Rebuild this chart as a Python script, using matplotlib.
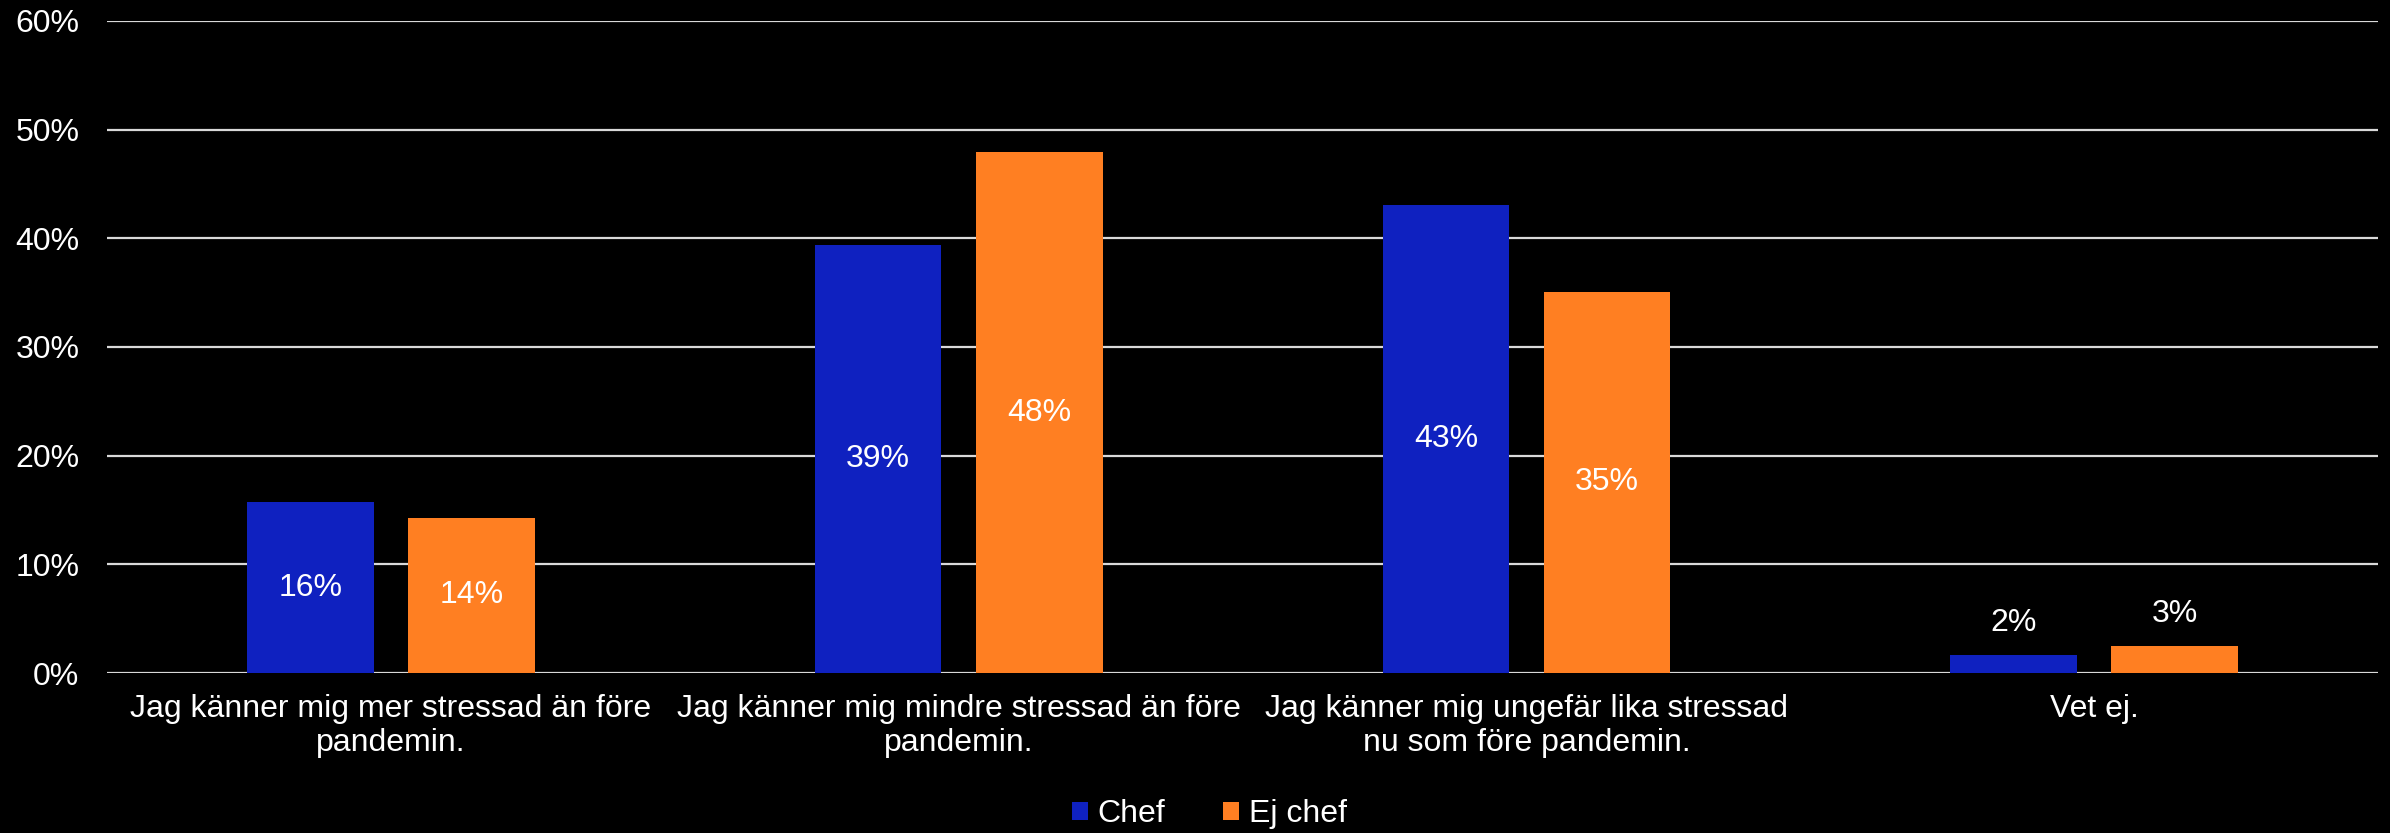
import matplotlib
matplotlib.use('Agg')
import matplotlib.pyplot as plt
import numpy as np
from matplotlib.ticker import PercentFormatter

plt.rcParams['font.family'] = ['Liberation Sans', 'DejaVu Sans']

categories = [
    "Jag känner mig mer stressad än före\npandemin.",
    "Jag känner mig mindre stressad än före\npandemin.",
    "Jag känner mig ungefär lika stressad\nnu som före pandemin.",
    "Vet ej.",
]
chef = [15.7, 39.4, 43.1, 1.7]
ej_chef = [14.3, 47.9, 35.1, 2.5]
chef_labels = ["16%", "39%", "43%", "2%"]
ej_chef_labels = ["14%", "48%", "35%", "3%"]

blue = '#0F21C0'
orange = '#FF7F22'
grid = '#D9D9D9'
fs = 23

fig = plt.figure(figsize=(23.9, 8.33), dpi=100, facecolor='black')
ax = fig.add_axes([0.0448, 0.192, 0.9502, 0.783])
ax.set_facecolor('black')

x = np.arange(len(categories))
w = 0.223
off = 0.142
b1 = ax.bar(x - off, chef, w, color=blue, label='Chef', zorder=3)
b2 = ax.bar(x + off, ej_chef, w, color=orange, label='Ej chef', zorder=3)

for bars, labels in ((b1, chef_labels), (b2, ej_chef_labels)):
    for rect, lab in zip(bars, labels):
        h = rect.get_height()
        cx = rect.get_x() + rect.get_width() / 2
        if h > 5:
            ax.text(cx, h / 2, lab, ha='center', va='center', color='white', fontsize=fs, zorder=4)
        else:
            ax.annotate(lab, (cx, h), xytext=(0, 12), textcoords='offset points',
                        ha='center', va='bottom', color='white', fontsize=fs, zorder=4)

ax.set_xlim(-0.5, 3.5)
ax.set_ylim(0, 60)
ax.set_yticks(np.arange(0, 61, 10))
ax.yaxis.set_major_formatter(PercentFormatter(decimals=0))
ax.yaxis.grid(True, color=grid, linewidth=1.6, zorder=0)
ax.set_axisbelow(True)
for s in ax.spines.values():
    s.set_visible(False)
ax.tick_params(axis='y', length=0, pad=20, labelsize=fs, labelcolor='white')
ax.tick_params(axis='x', length=0, pad=15, labelsize=fs, labelcolor='white')
ax.set_xticks(x)
ax.set_xticklabels(categories, linespacing=1.2)

leg = fig.legend(loc='lower center', bbox_to_anchor=(0.506, -0.03), ncol=2, frameon=False,
                 fontsize=fs, labelcolor='white', handlelength=0.5, handleheight=0.5,
                 handletextpad=0.3, columnspacing=1.8)

fig.savefig('out.png', dpi=100, facecolor='black')
